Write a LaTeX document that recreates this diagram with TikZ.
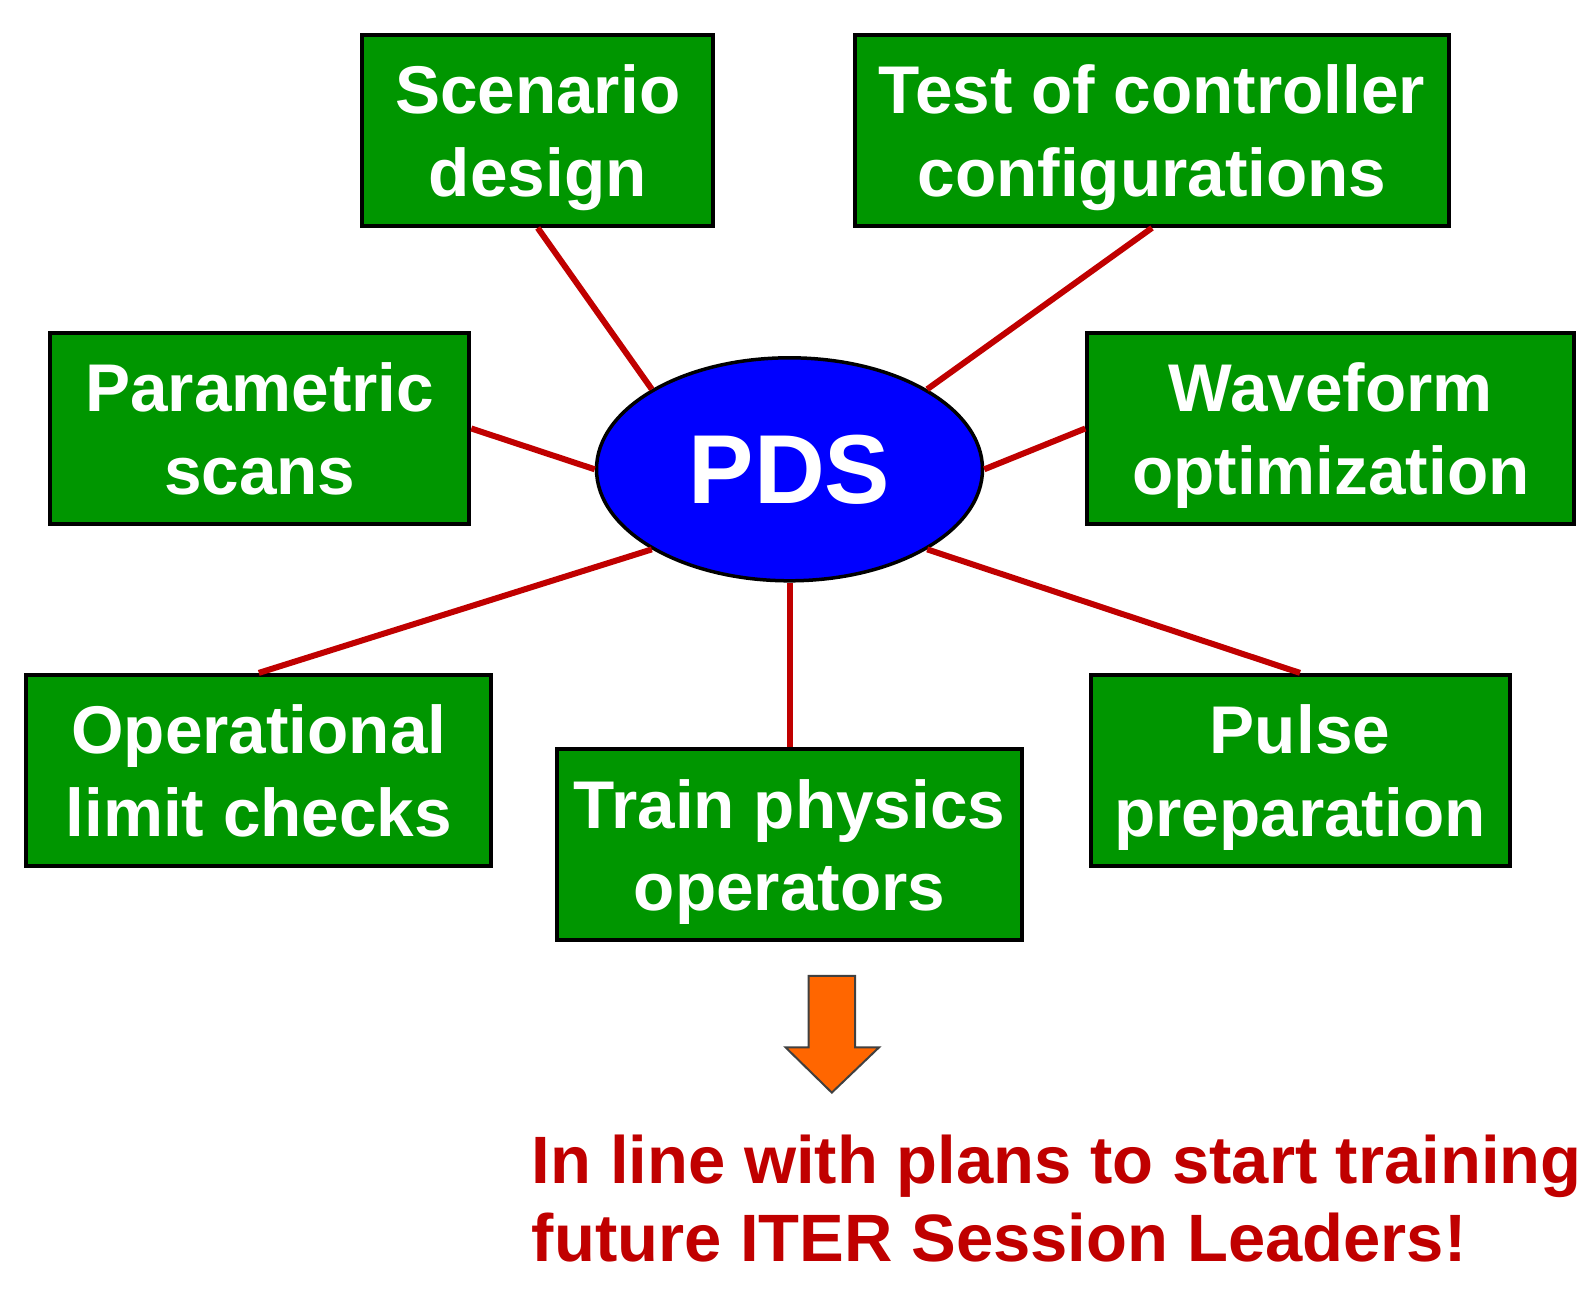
\documentclass[tikz,border=0pt]{standalone}
\usepackage{fontspec}
\setmainfont{Liberation Sans}
\usetikzlibrary{shapes.geometric}
\definecolor{boxgreen}{RGB}{0,150,0}
\definecolor{linered}{RGB}{192,0,0}
\definecolor{arroworange}{RGB}{255,102,0}
\begin{document}
\begin{tikzpicture}[x=1pt,y=-1pt,
  task/.style={rectangle, draw=black, line width=4pt, fill=boxgreen, text=white,
    font=\fontsize{67.5}{82.6}\selectfont\bfseries, align=center,
    minimum height=191pt, inner sep=0pt, text depth=0pt},
  link/.style={draw=linered, line width=6pt},
  hub/.style={ellipse, draw=black, line width=3.5pt, fill=blue, text=white,
    font=\fontsize{98}{110}\selectfont\bfseries, minimum width=386pt,
    minimum height=223pt, inner sep=0pt}]
\useasboundingbox (0,0) rectangle (1579,1289);

\node[hub] (pds) at (789.5,469.3) {PDS};

\node[task, minimum width=351pt] (scen) at (537.7,130.4) {Scenario\\design};
\node[task, minimum width=594pt] (test) at (1152,130.4) {Test of controller\\configurations};
\node[task, minimum width=419pt] (param) at (259.8,428.5) {Parametric\\scans};
\node[task, minimum width=487pt] (wave) at (1330.8,428.5) {Waveform\\optimization};
\node[task, minimum width=465pt] (oper) at (258.8,770.4) {Operational\\limit checks};
\node[task, minimum width=465pt] (train) at (789.5,844.9) {Train physics\\operators};
\node[task, minimum width=419pt] (pulse) at (1300,770.4) {Pulse\\preparation};

\draw[link] (scen.south) -- (pds.north west);
\draw[link] (test.south) -- (pds.north east);
\draw[link] (param.east) -- (pds.west);
\draw[link] (wave.west) -- (pds.east);
\draw[link] (oper.north) -- (pds.south west);
\draw[link] (train.north) -- (pds.south);
\draw[link] (pulse.north) -- (pds.south east);

\coordinate (tip) at (831.8,1092.6);
\draw[fill=arroworange, draw=black!75, line width=2pt]
  (808.6,975.8) -- (855,975.8) -- (855,1047.3) -- (879.1,1047.3) -- (tip)
  -- (785.5,1047.3) -- (808.6,1047.3) -- cycle;

\node[anchor=base west, inner sep=0pt, align=left, text=linered,
  font=\fontsize{67}{78.6}\selectfont\bfseries] (note) at (531.7,1261.8)
  {In line with plans to start training\\future ITER Session Leaders!};
\end{tikzpicture}
\end{document}
